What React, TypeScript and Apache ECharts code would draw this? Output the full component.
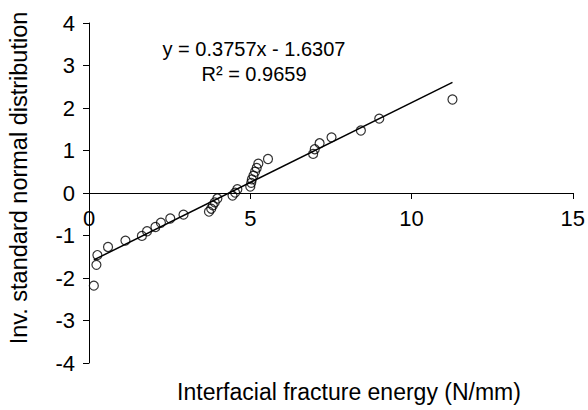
import React, { useEffect, useRef } from "react";
import * as echarts from "echarts";

// Interfacial fracture energy (N/mm) of each specimen, ranked
const energy = [
  0.15, 0.23, 0.26, 0.59, 1.13, 1.64, 1.8, 2.06, 2.23, 2.52, 2.93,
  3.72, 3.79, 3.84, 3.9, 3.98, 4.45, 4.53, 4.6,
  5.0, 5.03, 5.05, 5.1, 5.15, 5.2, 5.25, 5.55,
  6.95, 7.0, 7.15, 7.52, 8.43, 9.0, 11.27,
];

// Inverse standard normal value of each ranked specimen
const zScore = [
  -2.18, -1.69, -1.46, -1.27, -1.12, -1.01, -0.9, -0.8, -0.7, -0.6, -0.51,
  -0.44, -0.37, -0.29, -0.22, -0.13, -0.06, 0.01, 0.09,
  0.15, 0.24, 0.32, 0.41, 0.5, 0.59, 0.69, 0.8,
  0.92, 1.03, 1.17, 1.31, 1.47, 1.75, 2.2,
];

// Linear trendline: [slope, intercept]
const trendCoefficients = [0.3757, -1.6307];
const equationLines = ["y = 0.3757x - 1.6307", "R\u00b2 = 0.9659"];

const xTicks = { min: 0, max: 15, interval: 5 };
const yTicks = { min: -4, max: 4, interval: 1 };

const xTitle = "Interfacial fracture energy (N/mm)";
const yTitle = "Inv. standard normal distribution";

const FONT = "'Liberation Sans', Arial, sans-serif";

const GRID = { left: 89, right: 13, top: 23, bottom: 47 };
const PLOT_H = 410 - GRID.top - GRID.bottom;

export default function App() {
  const ref = useRef<HTMLDivElement>(null);

  useEffect(() => {
    if (!ref.current) return;
    const chart = echarts.init(ref.current, undefined, { renderer: "svg" });

    const points = energy.map((x, i) => [x, zScore[i]]);
    const [slope, intercept] = trendCoefficients;
    const xMin = Math.min(...energy);
    const xMax = Math.max(...energy);
    const trend = [
      [xMin, slope * xMin + intercept],
      [xMax, slope * xMax + intercept],
    ];

    // the horizontal axis sits on y = 0, which is mid-height of the plot
    const zeroOffset = -PLOT_H * (0 - yTicks.min) / (yTicks.max - yTicks.min);

    const axisCommon = {
      type: "value" as const,
      splitLine: { show: false },
      axisTick: { show: true, inside: false, length: 6, lineStyle: { color: "#000", width: 1 } },
      axisLabel: { color: "#000", fontSize: 22, fontFamily: FONT, margin: 14 },
    };

    const textStyle = (text: string, size: number) => ({
      text,
      fontSize: size,
      fontFamily: FONT,
      fill: "#000",
      textAlign: "center",
      textVerticalAlign: "middle",
    });

    chart.setOption({
      animation: false,
      backgroundColor: "#fff",
      textStyle: { fontFamily: FONT },
      grid: { ...GRID, containLabel: false },
      xAxis: {
        ...axisCommon,
        ...xTicks,
        position: "bottom",
        offset: zeroOffset,
        axisLine: { show: true, onZero: false, lineStyle: { color: "#000", width: 1 } },
      },
      yAxis: {
        ...axisCommon,
        ...yTicks,
        axisLine: { show: true, onZero: false, lineStyle: { color: "#000", width: 1 } },
      },
      series: [
        {
          type: "line",
          data: trend,
          symbol: "none",
          lineStyle: { color: "#000", width: 1.5 },
          z: 2,
        },
        {
          type: "scatter",
          data: points,
          symbol: "circle",
          symbolSize: 9,
          itemStyle: { color: "rgba(255,255,255,0)", borderColor: "#000", borderWidth: 1.2 },
          z: 3,
        },
      ],
      graphic: [
        { type: "text", x: 254, y: 49, style: textStyle(equationLines[0], 20) },
        { type: "text", x: 254, y: 74, style: textStyle(equationLines[1], 20) },
        { type: "text", x: 349, y: 392, style: textStyle(xTitle, 23) },
        { type: "text", x: 19, y: 178, rotation: Math.PI / 2, style: textStyle(yTitle, 23.5) },
      ],
    });

    return () => chart.dispose();
  }, []);

  return (
    <div
      ref={ref}
      style={{ position: "fixed", left: 0, top: 0, width: 588, height: 410, background: "#fff" }}
    />
  );
}
